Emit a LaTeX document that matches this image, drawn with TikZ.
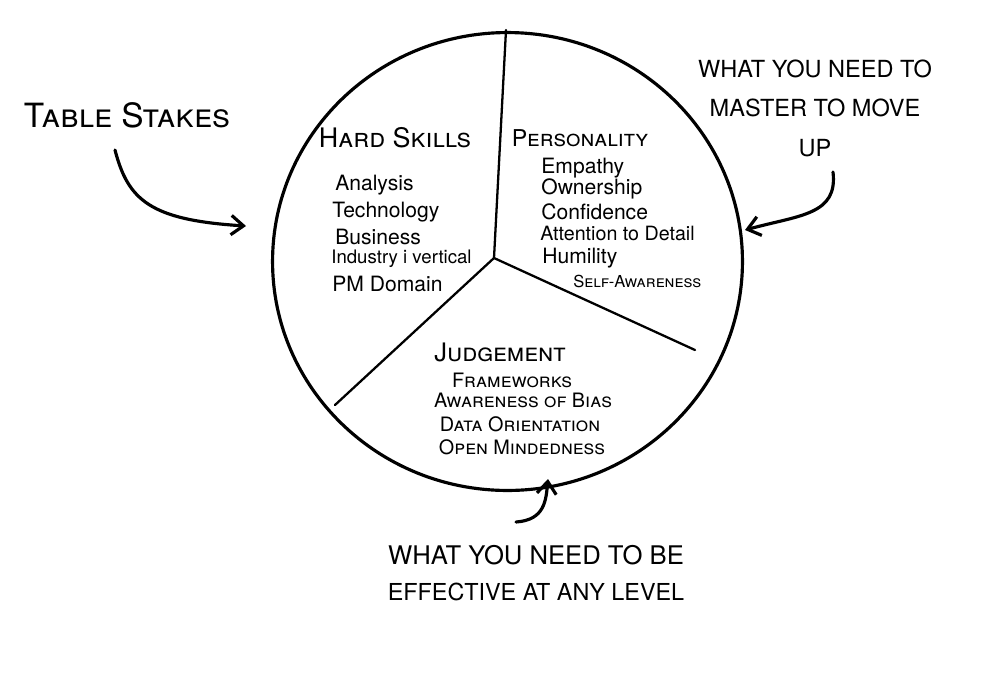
\documentclass[tikz,border=0pt]{standalone}
\usepackage{fontspec}
\setmainfont{TeX Gyre Heros}
\usetikzlibrary{arrows.meta}
\tikzset{
  ink/.style={line width=1.8pt, line cap=round, line join=round},
  divider/.style={line width=1.3pt, line cap=round},
  pointer/.style={line width=1.8pt, line cap=round, -{Straight Barb[length=7pt,width=11pt,line width=1.8pt]}},
  head/.style={font=\fontsize{15.3}{17}\selectfont\scshape, inner sep=0pt},
  item/.style={font=\fontsize{12}{13}\selectfont, inner sep=0pt, anchor=west},
  citem/.style={font=\fontsize{11.3}{13}\selectfont\scshape, inner sep=0pt},
  note/.style={font=\fontsize{13.4}{22.5}\selectfont, inner sep=0pt, align=center},
}
\begin{document}
\begin{tikzpicture}[x=0.02cm,y=-0.02cm]
\useasboundingbox (0,0) rectangle (1000,684);
% circle
\draw[ink] (507.5,261.5) ellipse [x radius=4.7cm, y radius=4.58cm];
% dividers
\coordinate (c) at (494,258);
\coordinate (top) at (506,30);
\coordinate (ll) at (335,405);
\coordinate (rr) at (695,350);
\draw[divider] (c) -- (top);
\draw[divider] (c) -- (ll);
\draw[divider] (c) -- (rr);
% Hard skills
\node[head] (hs) at (395,138) {Hard Skills};
\node[item] (h1) at (335,185) {Analysis};
\node[item] (h2) at (332,212) {Technology};
\node[item] (h3) at (335,237) {Business};
\node[item, font=\fontsize{10.6}{12}\selectfont] (h4) at (331,259) {Industry i vertical};
\node[item] (h5) at (332,284) {PM Domain};
% Personality
\node[head, font=\fontsize{13.2}{15}\selectfont\scshape] (pe) at (580,138) {Personality};
\node[item] (p1) at (541,168) {Empathy};
\node[item] (p2) at (541,189) {Ownership};
\node[item] (p3) at (541,212) {Confidence};
\node[item, font=\fontsize{11.2}{13}\selectfont] (p4) at (540,233) {Attention to Detail};
\node[item] (p5) at (542,258) {Humility};
\node[citem, anchor=west, font=\fontsize{9.4}{11}\selectfont\scshape] (p6) at (573,281) {Self-Awareness};
% Judgement
\node[head, font=\fontsize{14.5}{17}\selectfont\scshape] (ju) at (500,352) {Judgement};
\node[citem] (j1) at (512,380) {Frameworks};
\node[citem] (j2) at (523,400) {Awareness of Bias};
\node[citem] (j3) at (520,424) {Data Orientation};
\node[citem] (j4) at (522,447) {Open Mindedness};
% annotations
\node[note, font=\fontsize{19}{21}\selectfont\scshape] (ts) at (127,115) {Table Stakes};
\node[note] (mu) at (815,108) {WHAT YOU NEED TO\\MASTER TO MOVE\\UP};
\node[note, font=\fontsize{14.6}{21}\selectfont] (eff1) at (536,555) {WHAT YOU NEED TO BE};
\node[note, font=\fontsize{13.3}{21}\selectfont] (eff2) at (536,592) {EFFECTIVE AT ANY LEVEL};
% arrows
\coordinate (a1s) at (115,150);
\coordinate (a1e) at (246,226);
\draw[pointer] (a1s) .. controls (128,200) and (150,220) .. (a1e);
\coordinate (a2s) at (833,172);
\coordinate (a2e) at (745,230);
\draw[pointer] (a2s) .. controls (838,215) and (800,215) .. (a2e);
\coordinate (a3s) at (516,522);
\coordinate (a3e) at (548,479);
\draw[pointer] (a3s) .. controls (545,520) and (546,500) .. (a3e);
\end{tikzpicture}
\end{document}
